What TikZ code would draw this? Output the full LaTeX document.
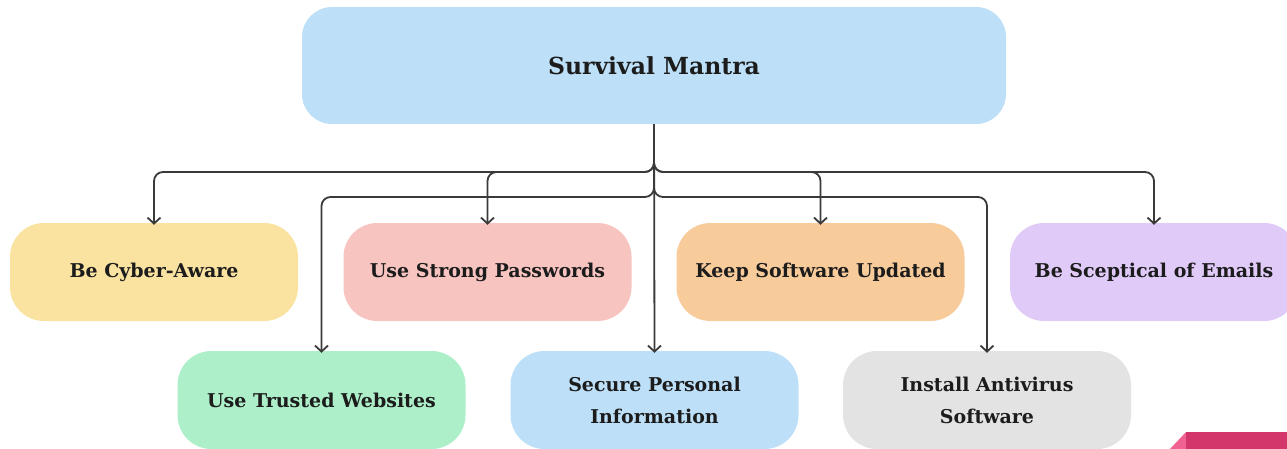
\documentclass[tikz,border=0pt]{standalone}
\usepackage{fontspec}
\setmainfont{DejaVu Serif}
\usetikzlibrary{arrows.meta}
\definecolor{cmain}{HTML}{BDE0F8}
\definecolor{cyellow}{HTML}{FAE3A0}
\definecolor{cpink}{HTML}{F8C4C0}
\definecolor{corange}{HTML}{F8CB9A}
\definecolor{cviolet}{HTML}{E0CAF8}
\definecolor{cgreen}{HTML}{ACEFC8}
\definecolor{cgray}{HTML}{E3E3E3}
\definecolor{ctext}{HTML}{1C1C1C}
\definecolor{cline}{HTML}{3A3A3A}
\definecolor{cdeep}{HTML}{D3366B}
\definecolor{clight}{HTML}{F06292}
\tikzset{
  box/.style={draw=none, rounded corners=34pt, minimum width=288pt, minimum height=98pt,
    align=center, font=\bfseries\fontsize{19}{32}\selectfont, text=ctext, inner sep=0pt},
  mainbox/.style={box, rounded corners=30pt, minimum width=704pt, minimum height=117pt,
    font=\bfseries\fontsize{23.5}{28}\selectfont},
  conn/.style={draw=cline, line width=1.8pt, rounded corners=9pt,
    -{Straight Barb[length=6pt,width=13pt,line width=1.8pt]}}
}
\begin{document}
\begin{tikzpicture}[x=1pt,y=-1pt]
\useasboundingbox (0,0) rectangle (1287,449);
\fill[white] (0,0) rectangle (1287,449);
\node[mainbox, fill=cmain] (top) at (654,65.5) {Survival Mantra};
\node[box, fill=cyellow] (aware) at (154,272) {Be Cyber-Aware};
\node[box, fill=cpink] (pass) at (487.5,272) {Use Strong Passwords};
\node[box, fill=corange] (upd) at (820.5,272) {Keep Software Updated};
\node[box, fill=cviolet] (email) at (1154,272) {Be Sceptical of Emails};
\node[box, fill=cgreen] (web) at (321.5,400) {Use Trusted Websites};
\node[box, fill=cmain] (info) at (654.5,400) {Secure Personal\\Information};
\node[box, fill=cgray] (av) at (987,400) {Install Antivirus\\Software};
\coordinate (up) at (0,172);
\coordinate (lo) at (0,197);
\draw[conn] (top.south) |- (aware.north |- up) -- ([yshift=-2pt]aware.north);
\draw[conn] (top.south) |- (pass.north |- up) -- ([yshift=-2pt]pass.north);
\draw[conn] (top.south) |- (upd.north |- up) -- ([yshift=-2pt]upd.north);
\draw[conn] (top.south) |- (email.north |- up) -- ([yshift=-2pt]email.north);
\draw[conn] (top.south) |- (web.north |- lo) -- ([yshift=-2pt]web.north);
\draw[conn] (top.south) |- (av.north |- lo) -- ([yshift=-2pt]av.north);
\draw[conn] (top.south) -- ([yshift=-2pt]info.north);
\fill[clight] (1170,449) -- (1186,432) -- (1190,432) -- (1190,449) -- cycle;
\fill[cdeep] (1186,432) rectangle (1287,449);
\end{tikzpicture}
\end{document}
